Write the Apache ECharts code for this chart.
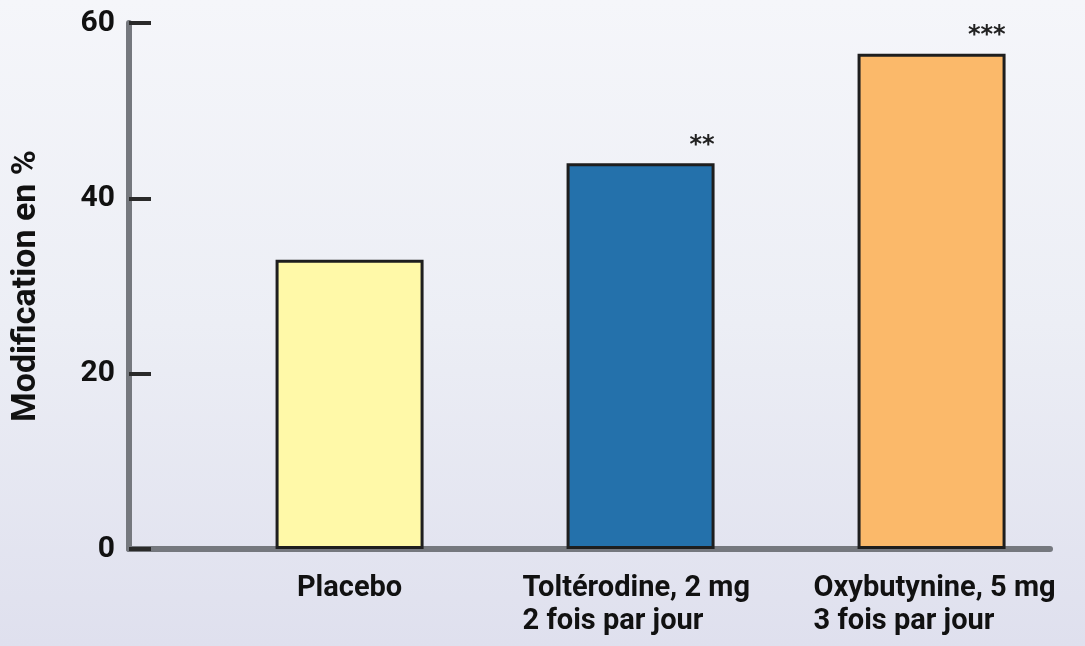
<!DOCTYPE html>
<html>
<head>
<meta charset="utf-8">
<script src="https://cdn.jsdelivr.net/npm/echarts@6/dist/echarts.min.js"></script>
<style>
html,body{margin:0;padding:0;}
#chart{width:1085px;height:646px;}
</style>
</head>
<body>
<div id="chart"></div>
<script>
// ---- data ----
var categories = ['Placebo', 'Toltérodine, 2 mg\n2 fois par jour', 'Oxybutynine, 5 mg\n3 fois par jour'];
var values = [33, 44, 56.5];
var significance = ['', '**', '***'];
var barColors = ['#fff9a8', '#2471ab', '#fbb96a'];
var yTicks = [0, 20, 40, 60];
var yName = 'Modification en %';

var FONT = 'Roboto, "Liberation Sans", sans-serif';

var seriesData = values.map(function (v, i) {
  return {
    value: [i, v],
    itemStyle: { color: barColors[i] },
    label: { formatter: significance[i] }
  };
});

var chart = echarts.init(document.getElementById('chart'), null, { renderer: 'canvas' });
chart.setOption({
  animation: false,
  backgroundColor: {
    type: 'linear', x: 0, y: 0, x2: 0, y2: 1,
    colorStops: [
      { offset: 0, color: '#f5f6fa' },
      { offset: 0.5, color: '#eceef5' },
      { offset: 1, color: '#dfe0ee' }
    ]
  },
  grid: { left: 129, right: 35, top: 23, bottom: 97, containLabel: false },
  xAxis: {
    type: 'value',
    min: -0.758,
    max: 2.407,
    splitLine: { show: false },
    axisTick: { show: false },
    axisLine: { show: true, onZero: false, lineStyle: { color: '#75787e', width: 6 } },
    axisLabel: {
      customValues: [0, 1, 2],
      hideOverlap: false,
      showMinLabel: true,
      showMaxLabel: true,
      margin: 23,
      color: '#111',
      fontFamily: FONT,
      fontWeight: 'bold',
      fontSize: 29,
      lineHeight: 33,
      formatter: function (v) {
        var c = categories[Math.round(v)] || '';
        if (c.indexOf('\n') >= 0) {
          return c.split('\n').map(function (s) { return '{l|' + s + '}'; }).join('\n');
        }
        return c;
      },
      rich: {
        l: {
          width: 236, align: 'left', color: '#111', fontFamily: FONT,
          fontWeight: 'bold', fontSize: 29, lineHeight: 33
        }
      }
    }
  },
  yAxis: {
    type: 'value',
    min: 0,
    max: 60,
    interval: 20,
    name: yName,
    nameLocation: 'middle',
    nameGap: 86,
    nameTextStyle: { color: '#111', fontFamily: FONT, fontWeight: 'bold', fontSize: 34 },
    splitLine: { show: false },
    axisLine: { show: true, onZero: false, lineStyle: { color: '#75787e', width: 6 } },
    axisTick: { show: true, inside: true, length: 22, lineStyle: { color: '#2a2a2a', width: 4 } },
    axisLabel: {
      margin: 14,
      color: '#111',
      fontFamily: FONT,
      fontWeight: 'bold',
      fontSize: 30,
      formatter: function (v) { return yTicks.indexOf(v) >= 0 ? String(v) : ''; }
    }
  },
  series: [{
    type: 'bar',
    barWidth: 148,
    data: seriesData,
    itemStyle: { borderColor: '#1e1e1e', borderWidth: 3 },
    label: {
      show: true,
      position: ['100%', -6],
      align: 'right',
      verticalAlign: 'bottom',
      color: '#222',
      fontFamily: '"DejaVu Sans", sans-serif',
      fontWeight: 'bold',
      fontSize: 24
    }
  }]
});
</script>
</body>
</html>
